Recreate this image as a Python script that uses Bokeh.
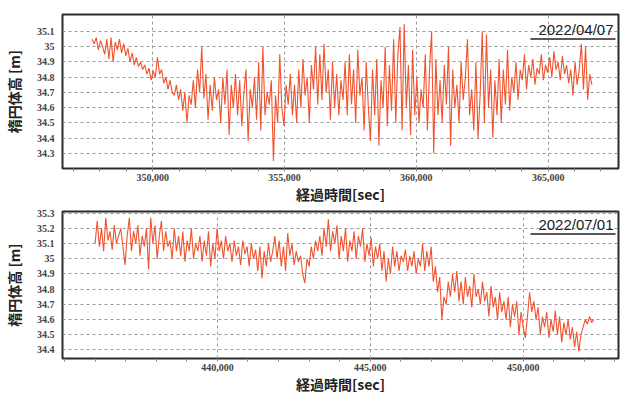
from bokeh.plotting import figure
from bokeh.layouts import column
from bokeh.models import (FixedTicker, NumeralTickFormatter, CustomJSTickFormatter,
                          Label, Arrow, Range1d, ColumnDataSource)
from bokeh.embed import file_html
from bokeh.resources import INLINE

# ---------------- data ----------------
# Panel 1 : 2022/04/07  (sampled every 80 s starting at 347,700 s)
t1_start = 347700
t1_step = 80
h1 = [
    35.05, 35.02, 35.06, 34.98, 35.04, 35.0, 34.95, 35.05, 34.92, 35.06, 34.9, 35.03,
    34.98, 35.05, 34.96, 35.02, 34.94, 34.99, 34.9, 34.96, 34.88, 34.93, 34.87, 34.9,
    34.85, 34.88, 34.82, 34.86, 34.78, 34.84, 34.8, 34.93, 34.82, 34.85, 34.76, 34.8,
    34.72, 34.78, 34.7, 34.68, 34.75, 34.65, 34.72, 34.58, 34.7, 34.5, 34.68, 34.62,
    34.78, 34.6, 34.85, 34.7, 35.0, 34.66, 34.82, 34.52, 34.75, 34.58, 34.8, 34.65,
    34.72, 34.5, 34.8, 34.62, 34.85, 34.42, 34.75, 34.6, 34.82, 34.55, 34.78, 34.48,
    34.7, 34.85, 34.38, 34.72, 34.6, 34.8, 34.52, 34.9, 34.45, 35.0, 34.55, 34.7,
    34.62, 34.78, 34.25, 34.68, 34.5, 34.95, 34.6, 34.48, 34.75, 34.62, 34.82, 34.55,
    34.75, 34.5, 34.85, 34.6, 34.92, 34.68, 34.8, 34.5, 34.88, 34.72, 35.0, 34.62,
    34.95, 34.65, 35.02, 34.7, 34.85, 34.52, 34.9, 34.6, 34.82, 34.55, 34.78, 34.65,
    34.9, 34.55, 34.95, 34.62, 34.85, 34.5, 34.98, 34.68, 34.8, 34.45, 34.9, 34.6,
    34.38, 34.85, 34.55, 34.92, 34.35, 34.78, 34.6, 35.0, 34.48, 34.88, 34.58, 35.05,
    34.5, 34.95, 35.13, 34.45, 35.15, 34.6, 34.88, 34.42, 34.98, 34.55, 34.8, 34.5,
    34.72, 34.6, 34.95, 34.45, 34.85, 35.1, 34.3, 34.92, 34.55, 34.78, 34.5, 34.88,
    34.62, 35.0, 34.35, 34.85, 34.6, 34.75, 34.5, 34.9, 34.65, 34.8, 35.05, 34.55,
    34.72, 34.45, 34.9, 34.4, 34.68, 35.1, 34.5, 35.08, 34.6, 34.85, 34.4, 34.78,
    34.55, 34.92, 34.5, 34.85, 34.62, 34.98, 34.58, 34.8, 34.7, 34.9, 34.65, 34.85,
    34.78, 34.95, 34.72, 34.88, 34.8, 34.92, 34.75, 34.86, 34.82, 34.95, 34.78, 34.88,
    34.83, 34.93, 34.8, 34.97, 34.85, 34.9, 34.78, 34.94, 34.82, 34.88, 34.76, 34.85,
    34.68, 34.9, 34.75, 34.85, 35.02, 34.72, 35.0, 34.65, 34.82, 34.75,
]

# Panel 2 : 2022/07/01  (sampled every 70 s starting at 436,000 s)
t2_start = 436000
t2_step = 70
h2 = [
    35.1, 35.25, 35.08, 35.2, 35.05, 35.27, 35.12, 35.18, 35.06, 35.22, 35.1, 35.15,
    35.2, 35.08, 34.96, 35.15, 35.27, 35.05, 35.18, 35.1, 35.22, 35.02, 35.15, 35.08,
    35.2, 34.93, 35.27, 35.1, 35.22, 35.0, 35.15, 35.25, 35.05, 35.18, 35.08, 35.12,
    35.0, 35.2, 35.05, 35.15, 35.02, 35.18, 34.98, 35.12, 35.05, 35.2, 35.0, 35.1,
    35.05, 35.15, 34.98, 35.12, 35.02, 35.18, 34.95, 35.1, 35.0, 35.2, 35.05, 35.12,
    35.0, 35.15, 35.05, 35.1, 34.98, 35.12, 35.02, 35.08, 34.96, 35.12, 35.03, 35.08,
    34.95, 35.1, 35.0, 35.06, 34.92, 35.08, 34.87, 35.05, 34.95, 35.1, 34.98, 35.05,
    35.15, 35.0, 35.12, 34.95, 35.08, 34.92, 35.17, 35.02, 35.1, 34.96, 35.05, 34.98,
    35.02, 34.9, 34.84, 35.0, 34.95, 35.08, 35.0, 35.12, 35.05, 35.15, 35.02, 35.2,
    35.08, 35.26, 35.05, 35.18, 35.1, 35.22, 35.0, 35.15, 35.05, 35.2, 34.98, 35.12,
    35.05, 35.18, 35.0, 35.15, 35.08, 35.2, 34.98, 35.1, 35.02, 35.14, 34.95, 35.08,
    35.0, 35.1, 34.92, 35.05, 34.85, 35.0, 34.9, 35.08, 34.95, 35.05, 34.92, 35.02,
    34.98, 35.06, 34.92, 35.02, 34.95, 35.05, 34.9, 35.0, 34.95, 35.1, 34.92, 35.05,
    34.95, 35.08, 34.85, 34.95, 34.78, 34.88, 34.6, 34.75, 34.7, 34.85, 34.75, 34.9,
    34.78, 34.92, 34.72, 34.85, 34.7, 34.88, 34.75, 34.82, 34.68, 34.9, 34.75, 34.8,
    34.7, 34.85, 34.72, 34.78, 34.62, 34.82, 34.68, 34.75, 34.6, 34.78, 34.65, 34.72,
    34.6, 34.75, 34.55, 34.7, 34.62, 34.72, 34.5, 34.65, 34.55, 34.48, 34.62, 34.78,
    34.65, 34.72, 34.6, 34.68, 34.5, 34.62, 34.55, 34.65, 34.48, 34.6, 34.52, 34.66,
    34.5, 34.62, 34.45, 34.58, 34.5, 34.6, 34.47, 34.55, 34.42, 34.52, 34.39, 34.5,
    34.55, 34.6, 34.57, 34.62, 34.58, 34.6,
]

dates = ["2022/04/07", "2022/07/01"]
y_label = "楕円体高 [m]"
x_label = "経過時間[sec]"

x1_major = [350000, 355000, 360000, 365000]
x1_minor = [347000, 348000, 349000, 351000, 352000, 353000, 354000, 356000, 357000,
            358000, 359000, 361000, 362000, 363000, 364000, 366000, 367000]
y1_ticks = [34.3, 34.4, 34.5, 34.6, 34.7, 34.8, 34.9, 35.0, 35.1]

x2_major = [440000, 445000, 450000]
x2_minor = [435000, 436000, 437000, 438000, 439000, 441000, 442000, 443000, 444000,
            446000, 447000, 448000, 449000, 451000, 452000, 453000]
y2_ticks = [34.4, 34.5, 34.6, 34.7, 34.8, 34.9, 35.0, 35.1, 35.2, 35.3]

LINE = "#F04A24"
TICK_FONT = "Liberation Sans Narrow"
CJK = "Noto Sans CJK JP"


def panel(t0, dt, h, xr, yr, xmaj, xmin, yt, date, height, top, bottom, date_y, ul_y):
    t = [t0 + dt * i for i in range(len(h))]
    src = ColumnDataSource(dict(t=t, h=h))
    p = figure(width=622, height=height, output_backend="svg", toolbar_location=None,
               x_range=Range1d(*xr), y_range=Range1d(*yr),
               min_border_left=58, min_border_right=4, min_border_top=top,
               min_border_bottom=bottom)
    p.line("t", "h", source=src, line_color=LINE, line_width=1.1, line_alpha=0.95)
    p.outline_line_color = "#2a2a2a"
    p.outline_line_width = 2
    p.background_fill_color = "white"
    p.border_fill_color = "white"

    xa = p.xaxis[0]
    xa.ticker = FixedTicker(ticks=xmaj, minor_ticks=xmin)
    xa.formatter = NumeralTickFormatter(format="0,0")
    xa.axis_line_color = None
    xa.major_tick_line_color = "#888888"
    xa.minor_tick_line_color = "#888888"
    xa.major_tick_out = 3
    xa.major_tick_in = 0
    xa.minor_tick_out = 3
    xa.minor_tick_in = 0
    xa.major_label_standoff = 2
    xa.major_label_text_font = TICK_FONT
    xa.major_label_text_font_style = "bold"
    xa.major_label_text_font_size = "10px"
    xa.major_label_text_color = "#444444"
    xa.axis_label = x_label
    xa.axis_label_text_font = CJK
    xa.axis_label_text_font_style = "bold"
    xa.axis_label_text_font_size = "14px"
    xa.axis_label_text_color = "#222222"
    xa.axis_label_standoff = 0

    ya = p.yaxis[0]
    ya.ticker = FixedTicker(ticks=yt)
    ya.formatter = CustomJSTickFormatter(code="return (Math.round(tick*10)/10).toString();")
    ya.axis_line_color = None
    ya.major_tick_out = 0
    ya.major_tick_in = 0
    ya.minor_tick_out = 0
    ya.minor_tick_in = 0
    ya.major_label_standoff = 8
    ya.major_label_text_font = TICK_FONT
    ya.major_label_text_font_style = "bold"
    ya.major_label_text_font_size = "10px"
    ya.major_label_text_color = "#444444"
    ya.axis_label = y_label
    ya.axis_label_text_font = CJK
    ya.axis_label_text_font_style = "bold"
    ya.axis_label_text_font_size = "14px"
    ya.axis_label_text_color = "#222222"
    ya.axis_label_standoff = 10

    for g in (p.xgrid[0], p.ygrid[0]):
        g.grid_line_color = "#9a9a9a"
        g.grid_line_dash = "3 3"
        g.grid_line_width = 1

    # date stamp with underline
    p.add_layout(Label(x=551, y=date_y, x_units="screen", y_units="screen", text=date,
                       text_align="right", text_baseline="bottom",
                       text_font="Liberation Sans", text_font_size="15px",
                       text_color="#222222"))
    p.add_layout(Arrow(end=None, start=None, x_start=468, y_start=ul_y, x_end=553, y_end=ul_y,
                       start_units="screen", end_units="screen",
                       line_color="#222222", line_width=1.5))
    return p


# top: canvas 0..206, frame 14..~168
p1 = panel(t1_start, t1_step, h1, (346579, 367669), (34.2, 35.212), x1_major, x1_minor,
           y1_ticks, dates[0], 206, 14, 36, 131, 129.5)
# bottom: canvas 206..396, frame 211..~358
p2 = panel(t2_start, t2_step, h2, (434935, 453117), (34.344, 35.311), x2_major, x2_minor,
           y2_ticks, dates[1], 190, 5, 36, 126, 124.5)

layout = column(p1, p2, spacing=0)
open("out.html", "w").write(file_html(layout, INLINE))
